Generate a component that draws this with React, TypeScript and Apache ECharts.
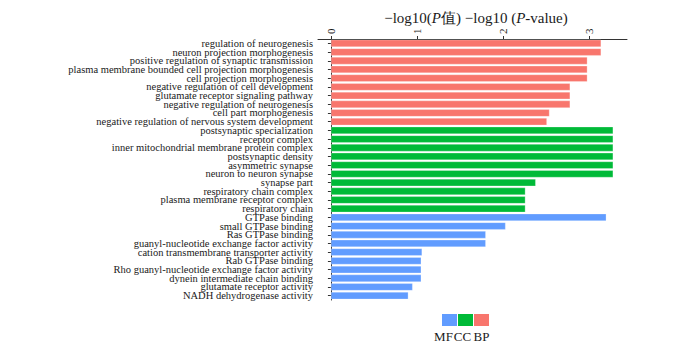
import React, { useEffect, useRef } from "react";
import * as echarts from "echarts";

const bpTerms = [
  "regulation of neurogenesis",
  "neuron projection morphogenesis",
  "positive regulation of synaptic transmission",
  "plasma membrane bounded cell projection morphogenesis",
  "cell projection morphogenesis",
  "negative regulation of cell development",
  "glutamate receptor signaling pathway",
  "negative regulation of neurogenesis",
  "cell part morphogenesis",
  "negative regulation of nervous system development",
];
const bpValues = [3.14, 3.14, 2.98, 2.98, 2.98, 2.78, 2.78, 2.78, 2.54, 2.51];

const ccTerms = [
  "postsynaptic specialization",
  "receptor complex",
  "inner mitochondrial membrane protein complex",
  "postsynaptic density",
  "asymmetric synapse",
  "neuron to neuron synapse",
  "synapse part",
  "respiratory chain complex",
  "plasma membrane receptor complex",
  "respiratory chain",
];
const ccValues = [3.28, 3.28, 3.28, 3.28, 3.28, 3.28, 2.38, 2.26, 2.26, 2.26];

const mfTerms = [
  "GTPase binding",
  "small GTPase binding",
  "Ras GTPase binding",
  "guanyl-nucleotide exchange factor activity",
  "cation transmembrane transporter activity",
  "Rab GTPase binding",
  "Rho guanyl-nucleotide exchange factor activity",
  "dynein intermediate chain binding",
  "glutamate receptor activity",
  "NADH dehydrogenase activity",
];
const mfValues = [3.2, 2.03, 1.8, 1.8, 1.06, 1.05, 1.05, 1.05, 0.95, 0.9];

const tickValues = [0, 1, 2, 3];
const legendNames = ["MF", "CC", "BP"];
const colors: Record<string, string> = { MF: "#619CFF", CC: "#00BA38", BP: "#F8766D" };

export default function App() {
  const ref = useRef<HTMLDivElement>(null);
  useEffect(() => {
    if (!ref.current) return;
    const chart = echarts.init(ref.current, null, { renderer: "svg" });
    const categories = [...bpTerms, ...ccTerms, ...mfTerms];
    const n = categories.length;
    const mk = (offset: number, vals: number[]) => {
      const arr: (number | string)[] = new Array(n).fill("-");
      vals.forEach((v, i) => (arr[offset + i] = v));
      return arr;
    };
    const serif = "Liberation Serif, Times New Roman, serif";
    const seriesDefs = [
      { name: "BP", data: mk(0, bpValues) },
      { name: "CC", data: mk(bpTerms.length, ccValues) },
      { name: "MF", data: mk(bpTerms.length + ccTerms.length, mfValues) },
    ];
    const legendGraphics: any[] = [];
    const boxX = [442, 458, 474];
    const labelX = [443.5, 462.5, 481.5];
    legendNames.forEach((nm, i) => {
      legendGraphics.push({
        type: "rect",
        shape: { x: boxX[i], y: 314, width: 15, height: 12 },
        style: { fill: colors[nm] },
      });
      legendGraphics.push({
        type: "text",
        x: labelX[i],
        y: 336,
        style: {
          text: nm,
          font: `13px ${serif}`,
          fill: "#1a1a1a",
          align: "center",
          verticalAlign: "middle",
        },
      });
    });
    chart.setOption({
      animation: false,
      title: {
        text: "{n|−log10(}{i|P}{n|值) −log10 (}{i|P}{n|-value)}",
        left: 471,
        top: 5,
        textAlign: "center",
        textStyle: {
          fontWeight: "normal",
          rich: {
            n: { fontFamily: serif, fontSize: 15, fontWeight: "normal", color: "#1a1a1a" },
            i: { fontFamily: serif, fontSize: 15, fontWeight: "normal", fontStyle: "italic", color: "#1a1a1a" },
          },
        },
      },
      grid: { left: 318, right: 73, top: 39, height: 261 },
      xAxis: {
        type: "value",
        position: "top",
        min: -0.15,
        max: 3.44,
        splitLine: { show: false },
        axisLine: { show: true, lineStyle: { color: "#333", width: 1 } },
        axisTick: { show: true, length: 3, customValues: tickValues, lineStyle: { color: "#333" } },
        axisLabel: {
          customValues: tickValues,
          rotate: -90,
          margin: 5,
          fontFamily: serif,
          fontSize: 11,
          color: "#1a1a1a",
        },
      },
      yAxis: {
        type: "category",
        inverse: true,
        data: categories,
        axisLine: { show: true, lineStyle: { color: "#333", width: 1 } },
        axisTick: { show: true, length: 3, alignWithLabel: true, lineStyle: { color: "#333" } },
        axisLabel: {
          interval: 0,
          margin: 5,
          fontFamily: serif,
          fontSize: 10.5,
          color: "#1a1a1a",
        },
      },
      series: seriesDefs.map((s) => ({
        type: "bar",
        name: s.name,
        stack: "all",
        data: s.data,
        barCategoryGap: "15%",
        itemStyle: {
          color: colors[s.name],
          borderColor: "rgba(255,255,255,0.45)",
          borderWidth: 0.6,
        },
      })),
      graphic: legendGraphics,
    });
    return () => chart.dispose();
  }, []);
  return (
    <div
      ref={ref}
      style={{ position: "absolute", left: 0, top: 0, width: 700, height: 352 }}
    />
  );
}
